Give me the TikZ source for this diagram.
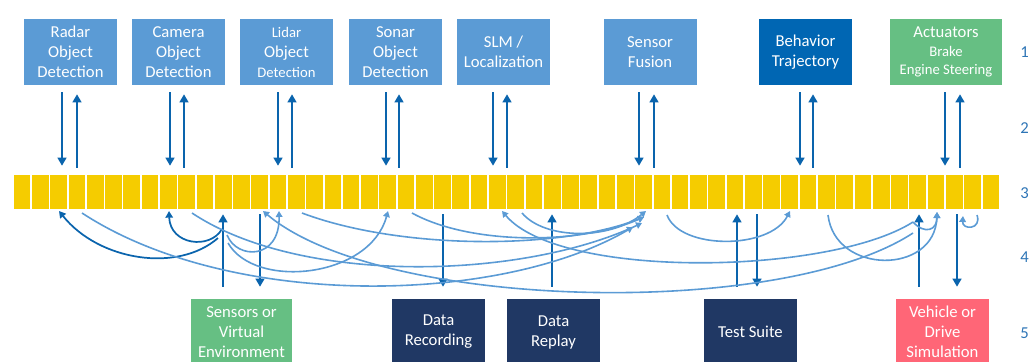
\documentclass[tikz,border=0pt]{standalone}
\usepackage{fontspec}
\setmainfont{Carlito}
\usepackage{tikz}
\usetikzlibrary{arrows.meta}
\definecolor{modblue}{HTML}{5B9BD5}
\definecolor{behblue}{HTML}{0066B3}
\definecolor{actgreen}{HTML}{66BF83}
\definecolor{navy}{HTML}{203864}
\definecolor{simred}{HTML}{FF6677}
\definecolor{busyellow}{HTML}{F5CC00}
\definecolor{arrdark}{HTML}{0A64AD}
\definecolor{lvlblue}{HTML}{2E75B6}
\tikzset{
  font={\fontsize{12.5pt}{15pt}\selectfont},
  box/.style={minimum width=69.75pt, minimum height=49.5pt, inner sep=0pt,
    align=center, text=white},
  vtop/.style={draw=arrdark, line width=1.7pt, -{Triangle[length=6pt,width=6.5pt]},
    shorten <=5.25pt, shorten >=6.75pt},
  vbot/.style={draw=arrdark, line width=1.7pt, -{Triangle[length=6pt,width=6.5pt]}},
  darkflow/.style={draw=arrdark, line width=1.3pt, -{Triangle[length=5pt,width=5.5pt]}},
  lightflow/.style={draw=modblue, line width=1.2pt, -{Triangle[length=4.5pt,width=5pt]}},
  lvl/.style={anchor=west, inner sep=0pt, text=lvlblue}}

\begin{document}
\begin{tikzpicture}[x=0.75pt,y=-0.75pt]
\useasboundingbox (0,0) rectangle (1030,361);

% bus
\node (bus) [minimum width=740.25pt, minimum height=25.5pt, inner sep=0pt] at (506.5,192) {};
\foreach \i in {0,...,53}
  \fill[busyellow] ({13+\i*18.278+0.8},175) rectangle ({13+(\i+1)*18.278-0.8},209);

% modules on top
\node (radar) [box, fill=modblue] at (70.5,52) {Radar\\Object\\Detection};
\node (camera) [box, fill=modblue] at (178.5,52) {Camera\\Object\\Detection};
\node (lidar) [box, fill=modblue] at (286.5,52)
  {{\fontsize{11pt}{15pt}\selectfont Lidar}\\Object\\{\fontsize{11pt}{15pt}\selectfont Detection}};
\node (sonar) [box, fill=modblue] at (395.5,52) {Sonar\\Object\\Detection};
\node (slm) [box, fill=modblue] at (503.5,52) {SLM /\\Localization};
\node (fusion) [box, fill=modblue] at (650,52) {Sensor\\Fusion};
\node (behavior) [box, fill=behblue] at (805.5,52) {Behavior\\Trajectory};
\node (actuators) [box, fill=actgreen, minimum width=84pt,
  font={\fontsize{11pt}{13.9pt}\selectfont}] at (946,52)
  {{\fontsize{12.5pt}{13.9pt}\selectfont Actuators}\\Brake\\Engine Steering};

% modules below
\node (sensors) [box, fill=actgreen, minimum width=75.75pt] at (241.5,332) {Sensors or\\Virtual\\Environment};
\node (recording) [box, fill=navy] at (438.5,332) {Data\\Recording};
\node (replay) [box, fill=navy] at (553.5,332) {Data\\Replay};
\node (testsuite) [box, fill=navy] at (750.5,332) {Test Suite};
\node (vehicle) [box, fill=simred] at (942.5,332) {Vehicle or\\Drive\\Simulation};

% levels
\node (l1) [lvl] at (1020,52) {1};
\node (l2) [lvl] at (1020,128) {2};
\node (l3) [lvl] at (1020,193) {3};
\node (l4) [lvl] at (1020,257) {4};
\node (l5) [lvl] at (1020,333) {5};

% read / write pairs, top
\foreach \m/\dn/\up in {radar/-6.375/4.875, camera/-6.375/4.125, lidar/-6.375/4.125,
    sonar/-7.125/2.625, slm/-7.875/2.625, fusion/-8.25/3, behavior/-4.125/5.625,
    actuators/-0.75/10.5} {
  \draw[vtop] ([xshift=\dn pt]\m.south) -- ([xshift=\dn pt]\m.south |- bus.north);
  \draw[vtop] ([xshift=\up pt]\m.south |- bus.north) -- ([xshift=\up pt]\m.south);
}

% read / write, bottom
\draw[vbot] ([xshift=-13.875pt,yshift=9pt]sensors.north) -- ([xshift=-13.875pt,yshift=-3.75pt]sensors.north |- bus.south);
\draw[vbot] ([xshift=13.875pt,yshift=-3.75pt]sensors.north |- bus.south) -- ([xshift=13.875pt,yshift=9pt]sensors.north);
\draw[vbot] ([xshift=3.375pt,yshift=-3.75pt]recording.north |- bus.south) -- ([xshift=3.375pt,yshift=9pt]recording.north);
\draw[vbot] ([xshift=-1.125pt,yshift=9pt]replay.north) -- ([xshift=-1.125pt,yshift=-3.75pt]replay.north |- bus.south);
\draw[vbot] ([xshift=-10.125pt,yshift=9pt]testsuite.north) -- ([xshift=-10.125pt,yshift=-3.75pt]testsuite.north |- bus.south);
\draw[vbot] ([xshift=4.875pt,yshift=-3.75pt]testsuite.north |- bus.south) -- ([xshift=4.875pt,yshift=9pt]testsuite.north);
\draw[vbot] ([xshift=-17.625pt,yshift=9pt]vehicle.north) -- ([xshift=-17.625pt,yshift=-3.75pt]vehicle.north |- bus.south);
\draw[vbot] ([xshift=10.875pt,yshift=-3.75pt]vehicle.north |- bus.south) -- ([xshift=10.875pt,yshift=9pt]vehicle.north);

% taps on the bus
\coordinate (sA) at (218,238);
\coordinate (sB) at (222,229);
\coordinate (sC) at (227,235);
\coordinate (sD) at (228,243);
\coordinate (radarIn) at (59,211);
\coordinate (camIn) at (169,211);
\coordinate (lidarIn) at (279,211);
\coordinate (sonarIn) at (388,211);
\coordinate (slmIn) at (502,211);
\coordinate (envIn) at (263,211);
\coordinate (radarOut) at (82,213);
\coordinate (camOut) at (192,213);
\coordinate (lidarOut) at (302,213);
\coordinate (sonarOut) at (412,213);
\coordinate (slmOut) at (522,213);
\coordinate (fusA) at (633,227);
\coordinate (fusB) at (642,223);
\coordinate (fusC) at (644,217);
\coordinate (fusD) at (646,211);
\coordinate (fusOut) at (667,215);
\coordinate (behIn) at (790,211);
\coordinate (behOut) at (828,215);
\coordinate (actIn) at (937,212);
\coordinate (actOut) at (977,215);
\coordinate (vehIn) at (963,216);
\coordinate (vehA) at (913,222);
\coordinate (vehB) at (913,233);

% sensor data to detection
\draw[darkflow] (sA) .. controls (178,273) and (99,261) .. (radarIn);
\draw[darkflow] (sB) .. controls (210,250) and (170,245) .. (camIn);
\draw[lightflow] (sC) .. controls (237,260) and (280,260) .. (lidarIn);
\draw[lightflow] (sD) .. controls (255,290) and (370,278) .. (sonarIn);

% objects to fusion
\draw[lightflow] (radarOut) .. controls (230,310) and (500,305) .. (fusA);
\draw[lightflow] (camOut) .. controls (300,285) and (520,280) .. (fusB);
\draw[lightflow] (lidarOut) .. controls (400,250) and (560,250) .. (fusC);
\draw[lightflow] (sonarOut) .. controls (470,245) and (580,245) .. (fusC);
\draw[lightflow] (slmOut) .. controls (545,240) and (610,240) .. (fusD);

% vehicle state
\draw[lightflow] (vehA) .. controls (830,275) and (560,280) .. (slmIn);
\draw[lightflow] (vehB) .. controls (780,320) and (380,310) .. (envIn);
\draw[lightflow] (vehA) .. controls (925,235) and (937,230) .. (actIn);

% chain
\draw[lightflow] (fusOut) .. controls (680,250) and (770,250) .. (behIn);
\draw[lightflow] (behOut) .. controls (835,275) and (935,275) .. (actIn);
\draw[lightflow] (actOut) .. controls (982,230) and (962,230) .. (vehIn);
\end{tikzpicture}
\end{document}
